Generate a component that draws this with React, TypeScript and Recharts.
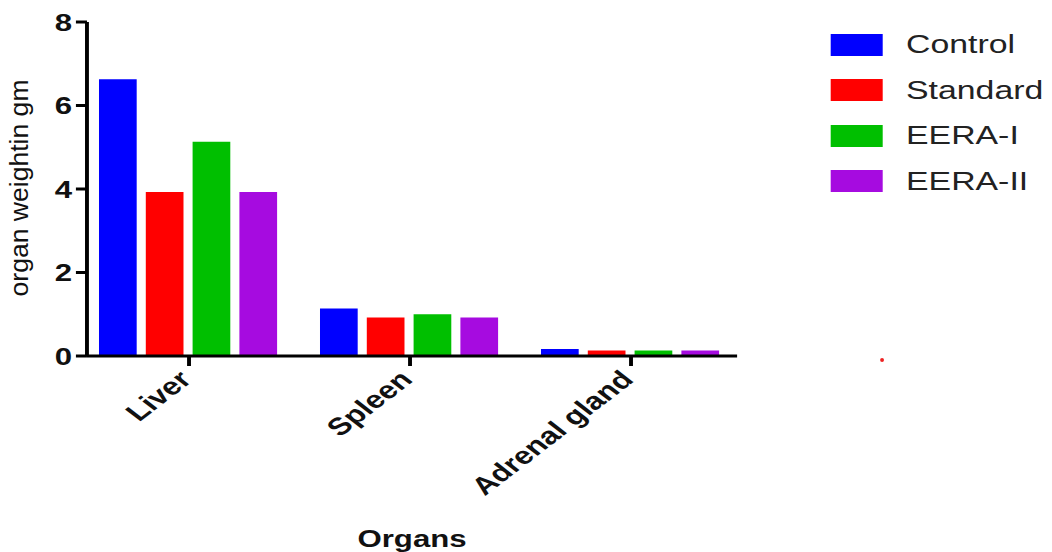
import React from "react"
import { BarChart, Bar, XAxis, YAxis, Legend } from "recharts"

// values
const organs = ["Liver", "Spleen", "Adrenal gland"]
const control = [6.63, 1.14, 0.17]
const standard = [3.93, 0.92, 0.13]
const eera1 = [5.13, 1.0, 0.13]
const eera2 = [3.93, 0.92, 0.13]

const seriesKeys = ["control", "standard", "eera1", "eera2"]
const seriesNames = ["Control", "Standard", "EERA-I", "EERA-II"]
const seriesColors = ["#0000ff", "#ff0000", "#00bf00", "#a60be0"]
const seriesValues = [control, standard, eera1, eera2]
const yTicks = [0, 2, 4, 6, 8]

const data = organs.map((organ, i) => {
  const row: Record<string, string | number> = { organ }
  seriesKeys.forEach((k, s) => {
    row[k] = seriesValues[s][i]
  })
  return row
})

// the original picture is stretched horizontally, so the chart is drawn narrow and scaled
const STRETCH = 1.3
const FONT = "'Liberation Sans', Arial, Helvetica, sans-serif"

function XTick({ x, y, payload }: any) {
  return (
    <text
      x={x + 3}
      y={y + 13}
      transform={`rotate(-45, ${x + 3}, ${y + 13})`}
      textAnchor="end"
      fontFamily={FONT}
      fontWeight={700}
      fontSize={24.5}
      fill="#111"
    >
      {payload.value}
    </text>
  )
}

function YLabel({ viewBox }: any) {
  const cy = viewBox.y + viewBox.height / 2 - 1
  return (
    <text
      x={21.4}
      y={cy}
      transform={`rotate(-90, 21.4, ${cy})`}
      textAnchor="middle"
      fontFamily={FONT}
      fontSize={20}
      textLength={217}
      lengthAdjust="spacingAndGlyphs"
      fill="#111"
    >
      organ weightin gm
    </text>
  )
}

function XLabel({ viewBox }: any) {
  return (
    <text
      x={viewBox.x + viewBox.width / 2}
      y={547}
      textAnchor="middle"
      fontFamily={FONT}
      fontWeight={700}
      fontSize={24}
      fill="#111"
    >
      Organs
    </text>
  )
}

// legend drawn in the series order of the original (recharts would sort it by name)
function LegendBox() {
  return (
    <div style={{ fontFamily: FONT }}>
      {seriesNames.map((name, s) => (
        <div key={name} style={{ display: "flex", alignItems: "center", height: 45.5 }}>
          <span style={{ display: "inline-block", width: 40, height: 22, backgroundColor: seriesColors[s] }} />
          <span style={{ marginLeft: 17.8, fontSize: 26, color: "#222", whiteSpace: "nowrap" }}>{name}</span>
        </div>
      ))}
    </div>
  )
}

export default function App() {
  return (
    <div
      style={{
        position: "absolute",
        left: 0,
        top: 0,
        width: 809,
        height: 552,
        transform: `scaleX(${STRETCH})`,
        transformOrigin: "0 0",
        background: "#fff",
      }}
    >
      <BarChart
        width={809}
        height={552}
        data={data}
        margin={{ top: 22, right: 242, bottom: 0, left: 0 }}
        barCategoryGap={15.75}
        barGap={7}
      >
        <XAxis
          dataKey="organ"
          height={196}
          padding={{ left: -6.5, right: -3.4 }}
          axisLine={{ stroke: "#000", strokeWidth: 3 }}
          tickLine={{ stroke: "#000", strokeWidth: 3 }}
          tickSize={10}
          tick={<XTick />}
          interval={0}
          label={<XLabel />}
        />
        <YAxis
          width={66.9}
          domain={[0, 8]}
          ticks={yTicks}
          axisLine={{ stroke: "#000", strokeWidth: 3 }}
          tickLine={{ stroke: "#000", strokeWidth: 3 }}
          tickSize={8.5}
          tickMargin={3}
          tick={{ fontFamily: FONT, fontWeight: 700, fontSize: 24, fill: "#111" }}
          label={<YLabel />}
        />
        <Legend
          layout="vertical"
          align="center"
          verticalAlign="middle"
          wrapperStyle={{ left: 639.2, top: 21.75, width: 170 }}
          content={<LegendBox />}
        />
        {seriesKeys.map((k, s) => (
          <Bar
            key={k}
            dataKey={k}
            name={seriesNames[s]}
            fill={seriesColors[s]}
            isAnimationActive={false}
          />
        ))}
      </BarChart>
      {/* stray red speck in the original */}
      <div
        style={{
          position: "absolute",
          left: 677,
          top: 358,
          width: 3,
          height: 4,
          borderRadius: "50%",
          background: "#e22",
        }}
      />
    </div>
  )
}
